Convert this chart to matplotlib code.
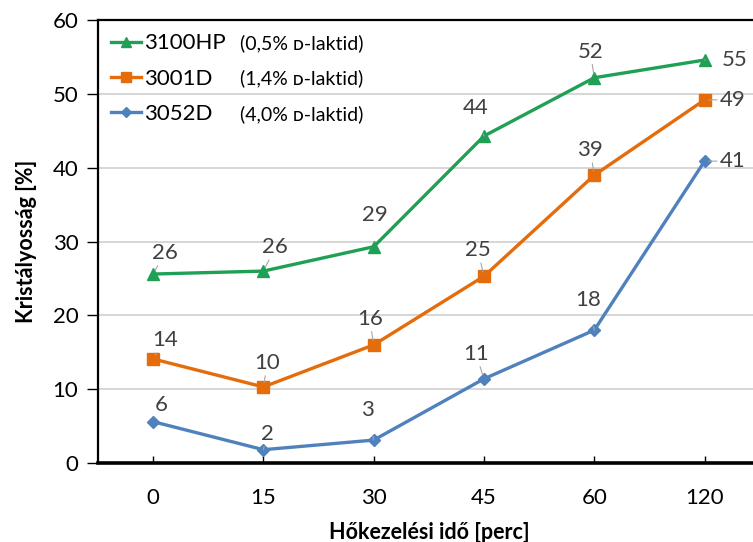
import matplotlib
matplotlib.use("Agg")
import matplotlib.pyplot as plt
from matplotlib.lines import Line2D

plt.rcParams['font.family'] = ['Lato', 'DejaVu Sans']

# data
times = ['0', '15', '30', '45', '60', '120']
names = ['3100HP', '3001D', '3052D']
notes = ['(0,5% ᴅ-laktid)', '(1,4% ᴅ-laktid)', '(4,0% ᴅ-laktid)']
green = [25.6, 26.0, 29.3, 44.3, 52.2, 54.6]
orange = [14.1, 10.3, 16.0, 25.3, 39.0, 49.2]
blue = [5.6, 1.8, 3.1, 11.4, 18.0, 40.9]

series = [green, orange, blue]
colors = ['#1fa055', '#e46c0a', '#4f81bd']
markers = ['^', 's', 'D']
msizes = [9, 8.5, 6]

# label offsets in pixels (label position relative to point)
offs = [
    [(12, 21), (12, 24), (1, 32), (-8, 28), (-4, 26), (30, 0)],
    [(12, 19), (4, 24), (-4, 26), (-6, 26), (-4, 25), (28, 0)],
    [(8, 17), (4, 16), (-6, 30), (-8, 25), (-6, 30), (28, 0)],
]

fig = plt.figure(figsize=(7.53, 5.42), dpi=100)
ax = fig.add_axes([0.130, 0.1458, 0.879, 0.817])

x = list(range(len(times)))
for s, c, m, ms, off in zip(series, colors, markers, msizes, offs):
    ax.plot(x, s, color=c, lw=2.4, marker=m, ms=ms, zorder=3)
    for xi, v, o in zip(x, s, off):
        ax.annotate(f"{v:.0f}", (xi, v), xytext=o, textcoords='offset pixels',
                    ha='center', va='center', fontsize=16, color='#404040',
                    arrowprops=dict(arrowstyle='-', color='#a6a6a6', lw=0.8,
                                    shrinkA=10, shrinkB=3))

ax.set_xlim(-0.5, 5.5)
ax.set_ylim(0, 60)
ax.set_xticks(x)
ax.set_xticklabels(times)
ax.set_yticks(range(0, 61, 10))
ax.yaxis.grid(True, color='#d0d0d0', lw=1.2)
ax.set_axisbelow(True)
ax.tick_params(axis='x', direction='in', length=5, width=1, labelsize=16, pad=18)
ax.tick_params(axis='y', direction='out', length=8, width=1, labelsize=16, pad=6)
for sp in ['left', 'top']:
    ax.spines[sp].set_linewidth(1.6)
ax.spines['bottom'].set_linewidth(2.6)
ax.spines['right'].set_visible(False)

ax.set_xlabel('Hőkezelési idő [perc]', fontsize=15.5, fontweight='bold', labelpad=10)
ax.set_ylabel('Kristályosság [%]', fontsize=15.5, fontweight='bold', labelpad=11)

handles = [Line2D([], [], color=c, lw=2.4, marker=m, ms=ms * 0.85)
           for c, m, ms in zip(colors, markers, msizes)]
leg = ax.legend(handles, names, loc='upper left', bbox_to_anchor=(0.0, 1.0),
                frameon=False, fontsize=16, handlelength=1.35, handletextpad=0.12,
                labelspacing=0.68, borderaxespad=0.2)

# put the percent notes on the same rows as the legend names
fig.canvas.draw()
r = fig.canvas.get_renderer()
for note, t in zip(notes, leg.get_texts()):
    bb = t.get_window_extent(r)
    xd, _ = ax.transAxes.transform((0.214, 0))
    ax.text(xd, bb.y0 + 0.5 * bb.height, note, transform=None, fontsize=14,
            va='center', ha='left', color='#000000')

fig.savefig('out.png', dpi=100)
